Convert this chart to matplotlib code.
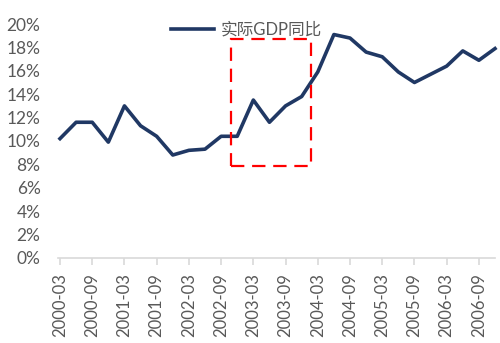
import matplotlib
matplotlib.use("Agg")
import matplotlib.pyplot as plt
from matplotlib.patches import Rectangle

plt.rcParams['font.family'] = ['Lato', 'Noto Sans CJK SC', 'DejaVu Sans']

# Quarterly real GDP growth, year on year (%)
quarters = [f"{y}-{m:02d}" for y in range(2000, 2007) for m in (3, 6, 9, 12)]
gdp_yoy = [10.2, 11.6, 11.6, 9.9, 13.0, 11.3, 10.4, 8.8,
           9.2, 9.3, 10.4, 10.4, 13.5, 11.6, 13.0, 13.8,
           15.9, 19.1, 18.8, 17.6, 17.2, 15.9, 15.0, 15.7,
           16.4, 17.7, 16.9, 17.9]
series_name = "实际GDP同比"

# Highlighted span (category index range, % range)
box_x = (10.6, 15.6)
box_y = (7.9, 18.7)

grey = "#595959"
navy = "#203864"

fig = plt.figure(figsize=(5.0, 3.43), dpi=100)
ax = fig.add_axes([0.12, 0.248, 0.87, 0.682])

x = list(range(len(quarters)))
ax.plot(x, gdp_yoy, color=navy, lw=2.6, solid_joinstyle="round",
        label=series_name, zorder=3, clip_on=False)

ax.add_patch(Rectangle((box_x[0], box_y[0]), box_x[1] - box_x[0],
                       box_y[1] - box_y[0], fill=False, edgecolor="#FF0000",
                       lw=1.6, ls=(0, (6, 3.5)), zorder=4))

ax.set_xlim(0, len(quarters) - 1)
ax.set_ylim(0, 20)
ax.set_yticks(range(0, 21, 2))
ax.set_yticklabels([f"{v}%" for v in range(0, 21, 2)])
ax.set_xticks(x[::2])
ax.set_xticklabels(quarters[::2], rotation=90)

for side in ("top", "right", "left"):
    ax.spines[side].set_visible(False)
ax.spines["bottom"].set_color("#D9D9D9")
ax.spines["bottom"].set_linewidth(1.2)
ax.spines["bottom"].set_bounds(-0.1, len(quarters) - 1)
ax.tick_params(axis="y", length=0, labelsize=12.5, labelcolor=grey, pad=14)
ax.tick_params(axis="x", length=5, color="#D9D9D9", width=1.2,
               labelsize=12, labelcolor=grey, pad=6)

leg = ax.legend(loc="upper center", bbox_to_anchor=(0.428, 1.075), frameon=False,
                fontsize=12, handlelength=2.6, handletextpad=0.4)
for t in leg.get_texts():
    t.set_color(grey)

fig.savefig("out.png", dpi=100)
